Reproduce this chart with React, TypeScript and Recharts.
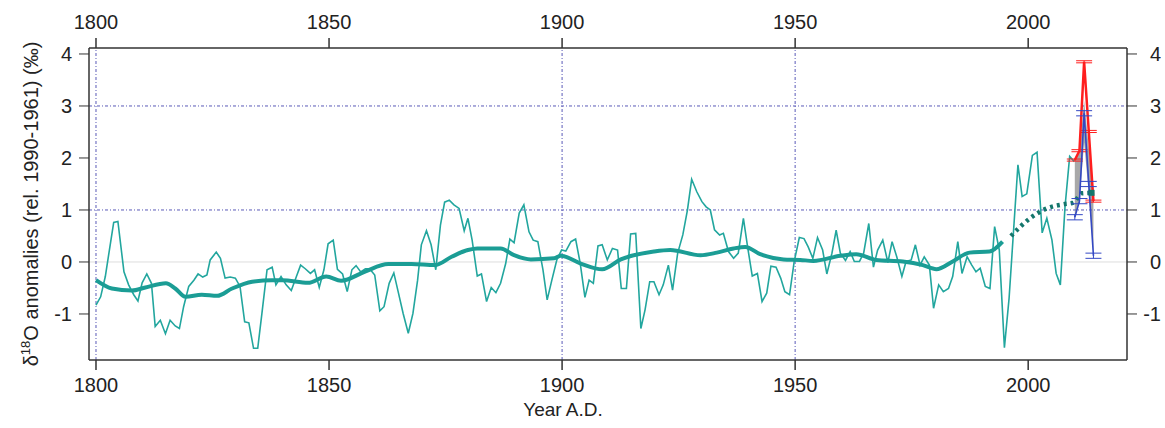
import { ComposedChart, Line, Area, XAxis, YAxis, ReferenceLine, ErrorBar } from "recharts";

const FONT = "'Liberation Sans', Arial, sans-serif";

const yearTicks = [1800, 1850, 1900, 1950, 2000];
const valueTicks = [-1, 0, 1, 2, 3, 4];

// annual δ18O anomalies, [year, value]
const annual: [number, number][] = [
  [1800.0, -0.83], [1801.0, -0.67], [1802.0, -0.28], [1803.1, 0.36], [1803.8, 0.76], [1804.7, 0.78],
  [1806.0, -0.19], [1807.0, -0.44], [1808.1, -0.63], [1809.0, -0.75], [1809.9, -0.4], [1810.9, -0.23],
  [1811.9, -0.41], [1812.7, -1.24], [1813.8, -1.12], [1814.9, -1.38], [1815.9, -1.12], [1817.0, -1.23],
  [1817.9, -1.28], [1818.8, -0.86], [1819.9, -0.47], [1821.0, -0.35], [1821.9, -0.23], [1822.9, -0.29],
  [1823.8, -0.25], [1824.5, 0.04], [1825.8, 0.19], [1826.7, 0.07], [1827.7, -0.31], [1828.8, -0.29],
  [1829.9, -0.31], [1830.9, -0.47], [1831.9, -1.15], [1832.8, -1.17], [1833.8, -1.66], [1834.7, -1.66],
  [1835.6, -0.99], [1836.7, -0.15], [1837.8, -0.1], [1838.6, -0.44], [1839.7, -0.28], [1840.8, -0.44],
  [1841.9, -0.55], [1843.0, -0.28], [1843.9, -0.06], [1844.9, -0.13], [1846.0, -0.22], [1846.9, -0.15],
  [1847.9, -0.49], [1848.9, -0.15], [1849.8, 0.35], [1850.9, 0.42], [1851.8, -0.14], [1852.9, -0.23],
  [1853.9, -0.57], [1854.9, -0.15], [1855.8, -0.07], [1856.8, -0.19], [1857.8, -0.13], [1858.7, -0.13],
  [1859.8, -0.25], [1860.9, -0.94], [1861.8, -0.86], [1862.9, -0.41], [1863.9, -0.21], [1864.9, -0.6],
  [1865.9, -0.99], [1867.0, -1.37], [1868.0, -0.99], [1869.0, -0.35], [1869.8, 0.33], [1870.9, 0.6],
  [1871.9, 0.33], [1872.9, -0.15], [1873.9, 0.71], [1874.8, 1.15], [1875.8, 1.19], [1876.8, 1.1],
  [1877.9, 1.03], [1879.0, 0.6], [1879.8, 0.84], [1880.7, 0.42], [1881.8, -0.27], [1882.7, -0.23],
  [1883.8, -0.76], [1884.8, -0.49], [1885.8, -0.59], [1886.8, -0.41], [1887.9, -0.03], [1888.8, 0.44],
  [1889.7, 0.37], [1890.8, 0.94], [1891.8, 1.1], [1892.9, 0.58], [1893.8, 0.42], [1894.8, 0.39],
  [1895.9, -0.15], [1896.8, -0.73], [1897.8, -0.35], [1898.9, 0.05], [1899.9, 0.23], [1900.8, 0.21],
  [1901.9, 0.39], [1902.9, 0.44], [1903.9, -0.03], [1904.9, -0.68], [1905.8, -0.35], [1906.7, -0.41],
  [1907.7, 0.31], [1908.6, 0.33], [1909.7, 0.04], [1910.8, 0.26], [1911.9, 0.23], [1912.7, -0.51],
  [1913.8, -0.51], [1914.7, 0.54], [1915.8, 0.55], [1916.9, -1.28], [1917.8, -0.92], [1918.8, -0.38],
  [1919.7, -0.38], [1920.8, -0.63], [1921.7, -0.44], [1922.8, -0.06], [1923.7, -0.54], [1924.8, 0.17],
  [1925.9, 0.52], [1926.9, 1.0], [1927.8, 1.59], [1928.9, 1.35], [1930.0, 1.16], [1930.9, 1.06],
  [1931.8, 1.0], [1932.7, 0.62], [1933.8, 0.52], [1934.6, 0.55], [1935.7, 0.2], [1936.8, 0.07],
  [1937.8, 0.17], [1938.9, 0.84], [1939.8, 0.29], [1940.8, -0.27], [1941.9, -0.22], [1942.9, -0.76],
  [1943.9, -0.6], [1944.8, -0.08], [1945.9, -0.1], [1946.9, -0.31], [1947.8, -0.57], [1948.8, -0.63],
  [1949.8, 0.01], [1950.9, 0.47], [1951.9, 0.45], [1952.8, 0.29], [1953.8, 0.07], [1954.8, 0.47],
  [1955.9, 0.23], [1956.8, -0.23], [1957.9, 0.17], [1958.8, 0.61], [1959.7, 0.17], [1960.8, 0.03],
  [1961.8, 0.2], [1962.7, 0.01], [1963.8, 0.01], [1964.7, 0.17], [1965.8, 0.74], [1966.8, -0.1],
  [1967.7, 0.23], [1968.8, 0.42], [1969.9, -0.01], [1970.8, 0.39], [1971.8, 0.1], [1972.9, -0.28],
  [1973.8, 0.01], [1974.9, 0.04], [1975.8, 0.33], [1976.8, -0.06], [1977.7, 0.1], [1978.8, -0.06],
  [1979.7, -0.89], [1980.8, -0.44], [1981.8, -0.57], [1982.9, -0.51], [1983.8, -0.28], [1984.9, 0.39],
  [1985.8, -0.22], [1986.9, 0.1], [1987.9, -0.06], [1988.8, -0.19], [1989.7, -0.12], [1990.8, -0.47],
  [1991.8, -0.51], [1992.8, 0.68], [1993.8, 0.23], [1994.9, -1.65], [1995.9, -0.7], [1997.8, 1.87],
  [1998.7, 1.26], [1999.7, 1.31], [2000.9, 2.05], [2001.9, 2.11], [2003.0, 0.56], [2004.0, 0.84],
  [2005.1, 0.42], [2006.0, -0.22], [2006.9, -0.44], [2007.9, 1.06], [2008.9, 2.03], [2009.9, 1.93],
];

// low-pass filtered curve
const smooth: [number, number][] = [
  [1800, -0.35], [1803.4, -0.51], [1807.7, -0.55], [1810.6, -0.49], [1815, -0.41], [1817, -0.51],
  [1819.2, -0.67], [1822.7, -0.63], [1826, -0.65], [1829.2, -0.51], [1833.5, -0.38], [1837.8, -0.35],
  [1840, -0.35], [1845.5, -0.4], [1849.4, -0.28], [1852.6, -0.36], [1857.6, -0.19], [1862.7, -0.04],
  [1867.7, -0.04], [1872.7, -0.06], [1876.3, 0.1], [1879.8, 0.23], [1881.8, 0.26], [1886.8, 0.26],
  [1889.7, 0.13], [1893.3, 0.05], [1898.3, 0.07], [1899.7, 0.12], [1904, -0.03], [1908.6, -0.14],
  [1912.6, 0.05], [1919.7, 0.2], [1923.2, 0.23], [1929.7, 0.13], [1933.2, 0.18], [1936.8, 0.26],
  [1939.3, 0.29], [1942.5, 0.15], [1947.5, 0.05], [1951.1, 0.04], [1953.9, 0.02], [1959.7, 0.12],
  [1963.1, 0.15], [1967.4, 0.04], [1973.1, 0.01], [1977.4, -0.06], [1980.3, -0.14], [1983.8, 0.01],
  [1987.4, 0.18], [1991.7, 0.2], [1994.5, 0.39],
];

const trendDotted: [number, number][] = [
  [1996.3, 0.5], [2000.4, 0.84], [2004, 1.03], [2007.6, 1.11], [2009.7, 1.14], [2011.5, 1.32], [2013.6, 1.33],
];

const recentYears = [2010, 2011, 2012, 2013, 2014];
const redValues = [1.96, 2.14, 3.85, 2.51, 1.17];
const blueValues = [0.86, 1.17, 2.86, 1.5, 0.12];
const bandLow = [0.86, 1.17, 2.3, 1.3, 0.15];
const bandHigh = [1.96, 2.1, 3.1, 2.2, 1.35];
const redErr = [0.02, 0.02, 0.02, 0.02, 0.02];
const blueErr = [0.05, 0.05, 0.05, 0.05, 0.05];

const toRows = (pairs: [number, number][]) => pairs.map(([year, v]) => ({ year, v }));
const annualRows = toRows(annual);
const smoothRows = toRows(smooth);
const dottedRows = toRows(trendDotted);
const recentRows = recentYears.map((year, i) => ({
  year,
  red: redValues[i],
  blue: blueValues[i],
  band: [bandLow[i], bandHigh[i]],
  redErr: redErr[i],
  blueErr: blueErr[i],
}));

const tickStyle = { fill: "#222", fontSize: 20, fontFamily: FONT };
const frame = { stroke: "#333", strokeWidth: 1.5 };
const gridBlue = "#5a5ab8";

function YLabel({ viewBox }: any) {
  const x = 38;
  const cy = viewBox.y + viewBox.height / 2;
  return (
    <text
      x={x}
      y={cy}
      transform={`rotate(-90 ${x} ${cy})`}
      textAnchor="middle"
      fontSize={20}
      fontFamily={FONT}
      fill="#222"
    >
      δ<tspan dy={-8} fontSize={13}>18</tspan>
      <tspan dy={8}>O anomalies (rel. 1990-1961) (‰)</tspan>
    </text>
  );
}

function XLabel() {
  return (
    <text x={563} y={416} textAnchor="middle" fontSize={19} fontFamily={FONT} fill="#222">
      Year A.D.
    </text>
  );
}

function RightTick({ y, payload }: any) {
  return (
    <text x={1161} y={y} dy="0.36em" textAnchor="end" {...tickStyle}>
      {payload.value}
    </text>
  );
}

export default function App() {
  const lastDot = dottedRows.length - 1;
  return (
    <>
      <style>{"body{margin:0}"}</style>
      <ComposedChart width={1165} height={428} margin={{ top: 0, right: 0, bottom: 0, left: 0 }}>
        <XAxis
          xAxisId="bottom"
          type="number"
          dataKey="year"
          domain={[1798.5, 2021.2]}
          ticks={yearTicks}
          allowDataOverflow
          height={68}
          tickSize={10}
          tickMargin={8}
          tick={tickStyle}
          axisLine={frame}
          tickLine={{ stroke: "#333", strokeWidth: 1.5 }}
          label={<XLabel />}
        />
        <XAxis
          xAxisId="top"
          orientation="top"
          type="number"
          dataKey="year"
          domain={[1798.5, 2021.2]}
          ticks={yearTicks}
          allowDataOverflow
          height={48}
          tickSize={10}
          tickMargin={9}
          tick={tickStyle}
          axisLine={frame}
          tickLine={{ stroke: "#333", strokeWidth: 1.5 }}
        />
        <YAxis
          yAxisId="left"
          type="number"
          domain={[-1.885, 4.115]}
          ticks={valueTicks}
          allowDataOverflow
          width={89}
          tickSize={10}
          tickMargin={7}
          tick={tickStyle}
          axisLine={frame}
          tickLine={{ stroke: "#333", strokeWidth: 1 }}
          label={<YLabel />}
        />
        <YAxis
          yAxisId="right"
          orientation="right"
          type="number"
          domain={[-1.885, 4.115]}
          ticks={valueTicks}
          allowDataOverflow
          width={38}
          tickSize={10}
          tick={<RightTick />}
          axisLine={frame}
          tickLine={{ stroke: "#333", strokeWidth: 1 }}
        />

        <ReferenceLine xAxisId="bottom" yAxisId="left" y={0} stroke="#dedede" strokeWidth={1} />
        <ReferenceLine xAxisId="bottom" yAxisId="left" y={1} stroke={gridBlue} strokeWidth={1} strokeDasharray="3 2 1 2" />
        <ReferenceLine xAxisId="bottom" yAxisId="left" y={3} stroke={gridBlue} strokeWidth={1} strokeDasharray="3 2 1 2" />
        <ReferenceLine xAxisId="bottom" yAxisId="left" x={1800} stroke={gridBlue} strokeWidth={1} strokeDasharray="3 2 1 2" />
        <ReferenceLine xAxisId="bottom" yAxisId="left" x={1900} stroke={gridBlue} strokeWidth={1} strokeDasharray="3 2 1 2" />
        <ReferenceLine xAxisId="bottom" yAxisId="left" x={1950} stroke={gridBlue} strokeWidth={1} strokeDasharray="3 2 1 2" />

        <Area
          xAxisId="bottom"
          yAxisId="left"
          data={recentRows}
          dataKey="band"
          type="linear"
          stroke="none"
          fill="#a8a8a8"
          fillOpacity={1}
          isAnimationActive={false}
        />
        <Line
          xAxisId="bottom"
          yAxisId="left"
          data={annualRows}
          dataKey="v"
          type="linear"
          stroke="#22a69e"
          strokeWidth={1.6}
          dot={false}
          isAnimationActive={false}
        />
        <Line
          xAxisId="bottom"
          yAxisId="left"
          data={smoothRows}
          dataKey="v"
          type="monotone"
          stroke="#1b9d95"
          strokeWidth={4}
          dot={false}
          isAnimationActive={false}
        />
        <Line
          xAxisId="bottom"
          yAxisId="left"
          data={dottedRows}
          dataKey="v"
          type="monotone"
          stroke="#14766c"
          strokeWidth={4.5}
          strokeDasharray="3 4"
          dot={(p: any) =>
            p.index === lastDot ? (
              <rect key={`d${p.index}`} x={p.cx - 3} y={p.cy - 3} width={6} height={6} fill="#14766c" />
            ) : (
              <g key={`d${p.index}`} />
            )
          }
          isAnimationActive={false}
        />
        <Line
          xAxisId="bottom"
          yAxisId="left"
          data={recentRows}
          dataKey="red"
          type="linear"
          stroke="#ff1e1e"
          strokeWidth={2.5}
          dot={false}
          isAnimationActive={false}
        >
          <ErrorBar dataKey="redErr" width={8} stroke="#ff1e1e" strokeWidth={1} direction="y" />
        </Line>
        <Line
          xAxisId="bottom"
          yAxisId="left"
          data={recentRows}
          dataKey="blue"
          type="linear"
          stroke="#3348c4"
          strokeWidth={1.6}
          dot={false}
          isAnimationActive={false}
        >
          <ErrorBar dataKey="blueErr" width={8} stroke="#3348c4" strokeWidth={1} direction="y" />
        </Line>
      </ComposedChart>
    </>
  );
}
